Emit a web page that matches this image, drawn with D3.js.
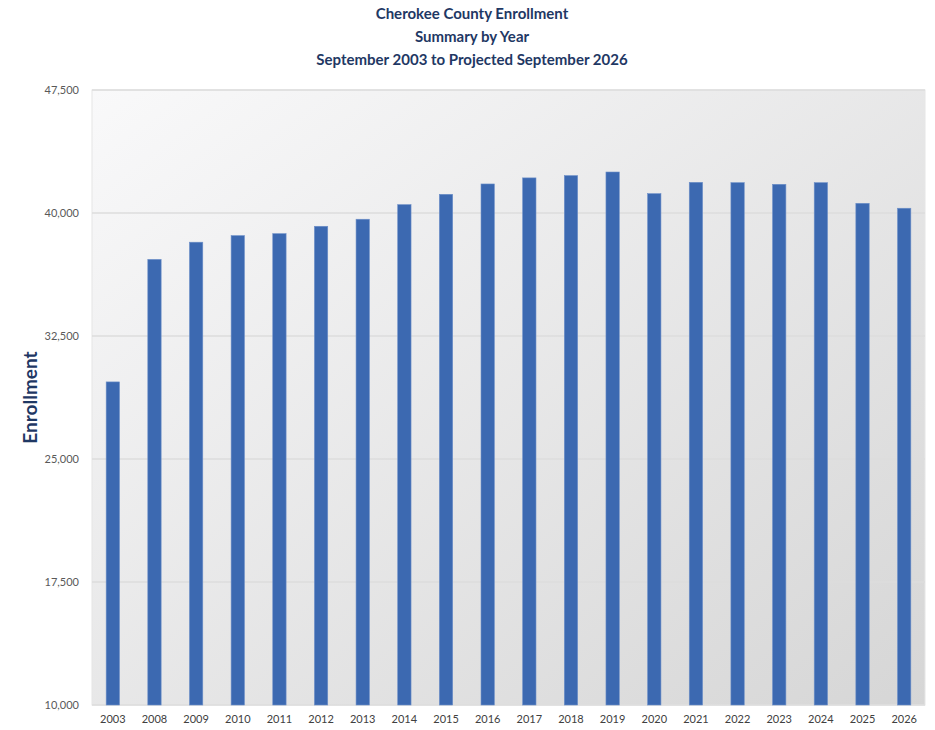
<!DOCTYPE html>
<html>
<head>
<meta charset="utf-8">
<script src="https://cdn.jsdelivr.net/npm/d3@7"></script>
<style>
  body { margin: 0; background: #fff; }
  svg { display: block; }
</style>
</head>
<body>
<div id="chart"></div>
<script>

// values (September enrollment, 2026 projected)
var years = ["2003","2008","2009","2010","2011","2012","2013","2014","2015","2016",
             "2017","2018","2019","2020","2021","2022","2023","2024","2025","2026"];
var enrollment = [29700, 37170, 38220, 38620, 38740, 39190, 39620, 40510, 41140, 41770,
                  42140, 42280, 42500, 41180, 41870, 41850, 41750, 41850, 40590, 40290];
var yTicks = [10000, 17500, 25000, 32500, 40000, 47500];
var titleLines = ["Cherokee County Enrollment", "Summary by Year", "September 2003 to Projected September 2026"];

var W = 935, H = 730;
var margin = {top: 90, right: 10, bottom: 25, left: 92};
var w = W - margin.left - margin.right,
    h = H - margin.top - margin.bottom;

var data = years.map(function(y, i) { return {year: y, value: enrollment[i]}; });

var svg = d3.select("#chart").append("svg")
    .attr("width", W)
    .attr("height", H);

var defs = svg.append("defs");
var grad = defs.append("linearGradient")
    .attr("id", "bg")
    .attr("x1", "0%").attr("y1", "0%")
    .attr("x2", "100%").attr("y2", "100%");
grad.append("stop").attr("offset", "0%").attr("stop-color", "#f9f9fa");
grad.append("stop").attr("offset", "100%").attr("stop-color", "#d6d6d6");

var g = svg.append("g")
    .attr("transform", "translate(" + margin.left + "," + margin.top + ")");

g.append("rect")
    .attr("width", w)
    .attr("height", h)
    .attr("fill", "url(#bg)")
    .attr("stroke", "#e6e6e6");

var x = d3.scaleBand()
    .domain(years)
    .range([0, w])
    .paddingInner(0.68)
    .paddingOuter(0.34);

var y = d3.scaleLinear()
    .domain([10000, 47500])
    .range([h, 0]);

// gridlines
g.append("g")
  .selectAll("line")
  .data(yTicks)
  .enter().append("line")
    .attr("x1", 0)
    .attr("x2", w)
    .attr("y1", function(d) { return y(d); })
    .attr("y2", function(d) { return y(d); })
    .attr("stroke", "#dcdcdc")
    .attr("stroke-width", 1.5);

g.selectAll(".bar")
    .data(data)
    .enter().append("rect")
    .attr("class", "bar")
    .attr("x", function(d) { return x(d.year); })
    .attr("width", x.bandwidth())
    .attr("y", function(d) { return y(d.value); })
    .attr("height", function(d) { return h - y(d.value); })
    .attr("fill", "#3c69b1")
    .attr("stroke", "#6d8fc8")
    .attr("stroke-width", 0.6);

// y axis
var yAxis = g.append("g")
    .call(d3.axisLeft(y).tickValues(yTicks).tickFormat(d3.format(",")).tickSize(0).tickPadding(13));
yAxis.select(".domain").remove();
yAxis.selectAll("text")
    .attr("font-family", "Lato, 'Open Sans', sans-serif")
    .attr("font-size", "11px")
    .attr("fill", "#595959");

// x axis
var xAxis = g.append("g")
    .attr("transform", "translate(0," + h + ")")
    .call(d3.axisBottom(x).tickSize(0).tickPadding(10));
xAxis.select(".domain").remove();
xAxis.selectAll("text")
    .attr("font-family", "Lato, 'Open Sans', sans-serif")
    .attr("font-size", "11px")
    .attr("fill", "#404040");

// y label
svg.append("text")
    .attr("transform", "translate(37," + (margin.top + h / 2) + ") rotate(-90)")
    .attr("text-anchor", "middle")
    .attr("font-family", "Lato, 'Open Sans', sans-serif")
    .attr("font-weight", "bold")
    .attr("font-size", "19px")
    .attr("fill", "#1f3864")
    .text("Enrollment");

// title
svg.append("g").selectAll("text")
    .data(titleLines)
    .enter().append("text")
    .attr("x", 472)
    .attr("y", function(d, i) { return 19 + i * 23; })
    .attr("text-anchor", "middle")
    .attr("font-family", "Lato, 'Open Sans', sans-serif")
    .attr("font-weight", "bold")
    .attr("font-size", "15px")
    .attr("fill", "#1f3864")
    .text(function(d) { return d; });

</script>
</body>
</html>
